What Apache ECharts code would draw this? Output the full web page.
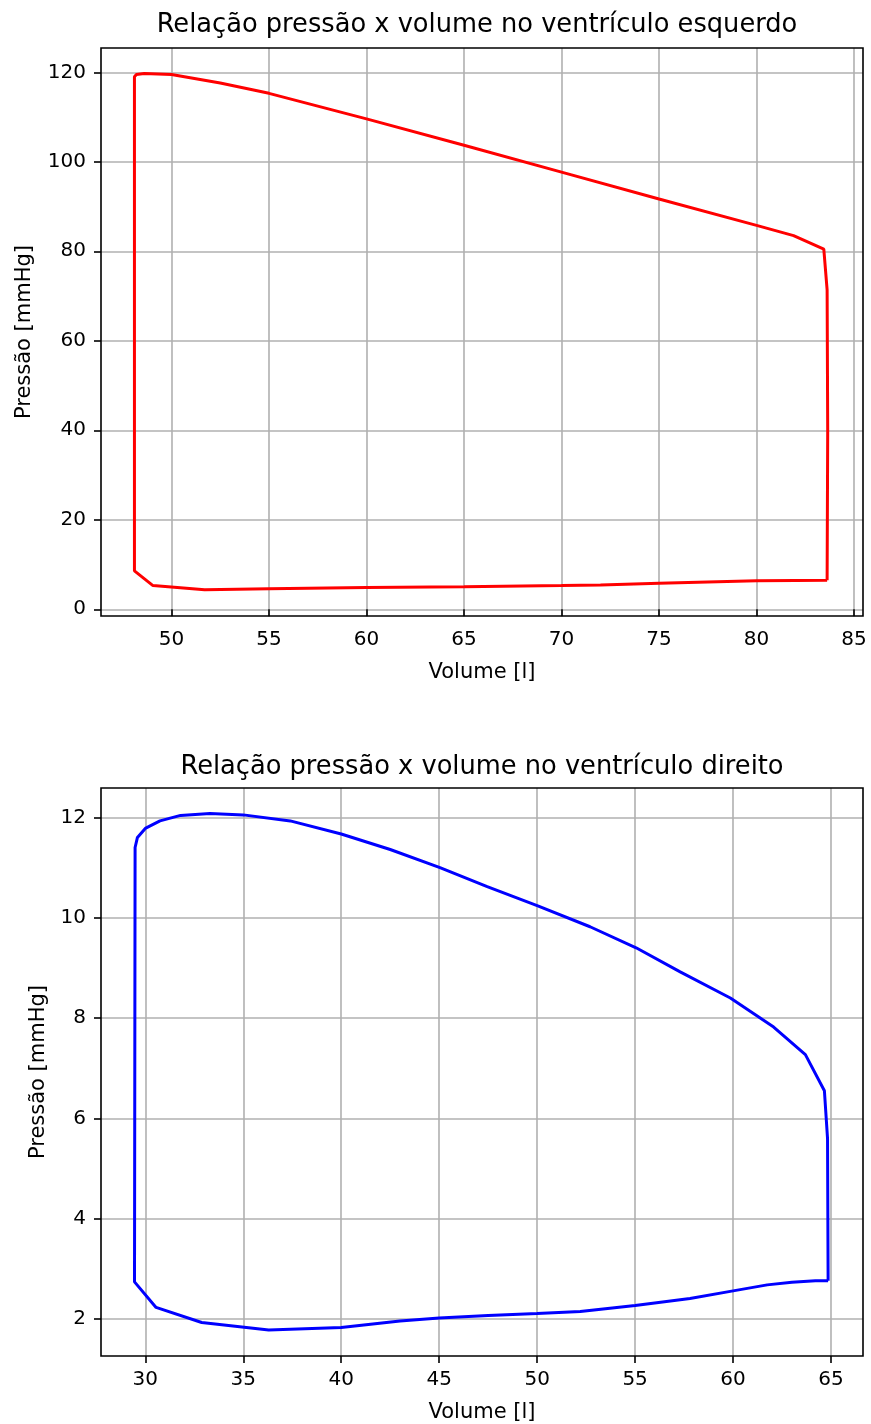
<!DOCTYPE html>
<html>
<head>
<meta charset="utf-8">
<script src="https://cdn.jsdelivr.net/npm/echarts@6/dist/echarts.min.js"></script>
<style>
  html, body { margin: 0; padding: 0; background: #fff; }
  #chart { width: 871px; height: 1424px; }
</style>
</head>
<body>
<div id="chart"></div>
<script>
// Left ventricle pressure-volume loop [volume, pressure]
const lvVolume = [83.62, 83.65, 83.62, 83.45, 81.9, 80, 75, 70, 65, 60, 55, 52.5, 50, 48.6, 48.2, 48.1,
  48.1, 49.05, 51.7, 55, 60, 65, 70, 72, 75, 78, 80, 82, 83.62];
const lvPressure = [6.5, 40, 71.4, 80.5, 83.5, 85.8, 91.7, 97.7, 103.7, 109.6, 115.3, 117.6, 119.5, 119.75, 119.5, 119,
  8.6, 5.3, 4.35, 4.6, 4.85, 5.05, 5.3, 5.45, 5.8, 6.15, 6.35, 6.45, 6.5];

// Right ventricle pressure-volume loop [volume, pressure]
const rvVolume = [64.85, 64.82, 64.66, 63.69, 62.07, 59.86, 57.3, 55.05, 52.7, 50.0, 47.45, 45.04, 42.5, 40,
  37.4, 35, 33.3, 31.8, 30.75, 30, 29.6, 29.48, 29.45, 30.55, 32.88, 36.3, 40, 43, 45, 47.5, 50, 52.2, 55,
  57.8, 60, 61.74, 63, 64.2, 64.85];
const rvPressure = [2.76, 5.6, 6.55, 7.27, 7.82, 8.4, 8.92, 9.4, 9.82, 10.24, 10.62, 11.0, 11.36, 11.67,
  11.93, 12.05, 12.08, 12.04, 11.93, 11.78, 11.6, 11.4, 2.74, 2.23, 1.93, 1.78, 1.83, 1.96, 2.02, 2.07, 2.11,
  2.15, 2.27, 2.41, 2.56, 2.68, 2.73, 2.76, 2.76];

// Tick labels
const lvXTicks = [50, 55, 60, 65, 70, 75, 80, 85];
const lvYTicks = [0, 20, 40, 60, 80, 100, 120];
const rvXTicks = [30, 35, 40, 45, 50, 55, 60, 65];
const rvYTicks = [2, 4, 6, 8, 10, 12];

const titles = ['Relação pressão x volume no ventrículo esquerdo', 'Relação pressão x volume no ventrículo direito'];
const xName = 'Volume [l]';
const yName = 'Pressão [mmHg]';

const FONT = 'DejaVu Sans';
const pairs = (xs, ys) => xs.map((x, i) => [x, ys[i]]);

function xAxis(gridIndex, min, max, ticks) {
  return {
    type: 'value', gridIndex, min, max,
    name: xName, nameLocation: 'middle', nameGap: 46,
    nameTextStyle: { fontFamily: FONT, fontSize: 21, color: '#000' },
    axisLine: { show: false },
    axisTick: { show: true, inside: false, length: 7, customValues: ticks,
      lineStyle: { color: '#000', width: 1.6 } },
    axisLabel: { customValues: ticks, margin: 14, fontFamily: FONT, fontSize: 20, color: '#000' },
    splitLine: { show: true, lineStyle: { color: '#b0b0b0', width: 1.6 } }
  };
}
function yAxis(gridIndex, min, max, ticks, gap) {
  return {
    type: 'value', gridIndex, min, max,
    name: yName, nameLocation: 'middle', nameGap: gap,
    nameTextStyle: { fontFamily: FONT, fontSize: 21, color: '#000' },
    axisLine: { show: false },
    axisTick: { show: true, inside: false, length: 7, customValues: ticks,
      lineStyle: { color: '#000', width: 1.6 } },
    axisLabel: { customValues: ticks, margin: 15, fontFamily: FONT, fontSize: 20, color: '#000' },
    splitLine: { show: true, lineStyle: { color: '#b0b0b0', width: 1.6 } }
  };
}

const chart = echarts.init(document.getElementById('chart'), null, { renderer: 'canvas' });
chart.setOption({
  animation: false,
  backgroundColor: '#fff',
  title: [
    { text: titles[0], left: 472, top: 7, textAlign: 'center',
      textStyle: { fontFamily: FONT, fontSize: 25.7, fontWeight: 'normal', color: '#000' } },
    { text: titles[1], left: 477, top: 749, textAlign: 'center',
      textStyle: { fontFamily: FONT, fontSize: 25.7, fontWeight: 'normal', color: '#000' } }
  ],
  grid: [
    { left: 101, top: 48, width: 762, height: 568, show: true, borderColor: '#000', borderWidth: 1.6, backgroundColor: 'transparent', z: 3 },
    { left: 101, top: 788, width: 762, height: 568, show: true, borderColor: '#000', borderWidth: 1.6, backgroundColor: 'transparent', z: 3 }
  ],
  xAxis: [
    xAxis(0, 46.385, 85.46, lvXTicks),
    xAxis(1, 27.74, 66.63, rvXTicks)
  ],
  yAxis: [
    yAxis(0, -1.5, 125.43, lvYTicks, 66),
    yAxis(1, 1.262, 12.586, rvYTicks, 52)
  ],
  series: [
    { type: 'line', xAxisIndex: 0, yAxisIndex: 0, data: pairs(lvVolume, lvPressure),
      showSymbol: false, symbol: 'none', lineStyle: { color: '#ff0000', width: 3 }, z: 5 },
    { type: 'line', xAxisIndex: 1, yAxisIndex: 1, data: pairs(rvVolume, rvPressure),
      showSymbol: false, symbol: 'none', lineStyle: { color: '#0000ff', width: 3 }, z: 5 }
  ]
});
</script>
</body>
</html>
